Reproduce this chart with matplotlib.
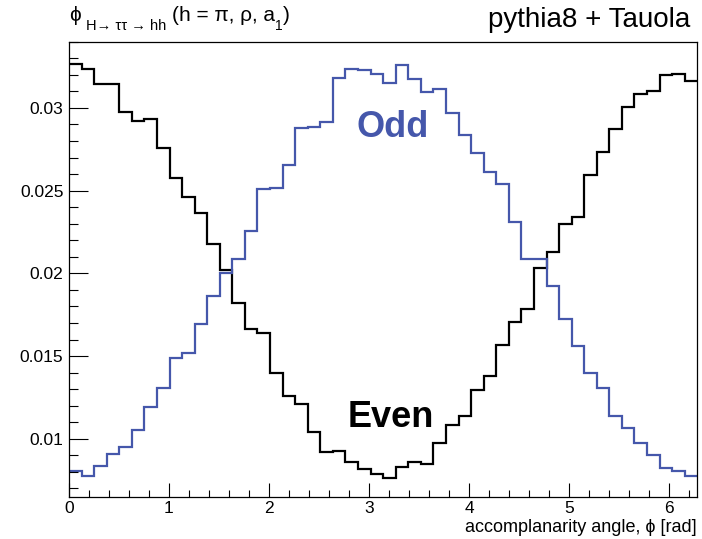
import numpy as np
import matplotlib
matplotlib.use("Agg")
import matplotlib.pyplot as plt
from matplotlib.ticker import FixedLocator, MultipleLocator

plt.rcParams['font.family'] = ['Liberation Sans', 'DejaVu Sans']
plt.rcParams['mathtext.fontset'] = 'custom'
plt.rcParams['mathtext.rm'] = 'Liberation Sans'
plt.rcParams['mathtext.it'] = 'Liberation Sans'
plt.rcParams['mathtext.sf'] = 'Liberation Sans'
plt.rcParams['mathtext.fallback'] = 'stixsans'

# Normalised acoplanarity-angle distributions, 50 bins over [0, 2*pi]
n_bins = 50
phi_max = 2 * np.pi

even = [0.03263, 0.03234, 0.03142, 0.03142, 0.02976, 0.02922, 0.02930, 0.02755,
        0.02578, 0.02461, 0.02363, 0.02175, 0.02020, 0.01819, 0.01662, 0.01641,
        0.01399, 0.01259, 0.01210, 0.01043, 0.00918, 0.00928, 0.00858, 0.00818,
        0.00787, 0.00761, 0.00832, 0.00862, 0.00846, 0.00977, 0.01083, 0.01140,
        0.01295, 0.01381, 0.01567, 0.01704, 0.01784, 0.02030, 0.02131, 0.02298,
        0.02338, 0.02594, 0.02731, 0.02872, 0.03007, 0.03082, 0.03100, 0.03196,
        0.03202, 0.03162]

odd = [0.00805, 0.00777, 0.00836, 0.00906, 0.00952, 0.01053, 0.01190, 0.01309,
       0.01486, 0.01517, 0.01694, 0.01865, 0.02000, 0.02085, 0.02256, 0.02508,
       0.02517, 0.02654, 0.02880, 0.02882, 0.02916, 0.03178, 0.03234, 0.03228,
       0.03204, 0.03148, 0.03259, 0.03174, 0.03095, 0.03112, 0.02967, 0.02836,
       0.02725, 0.02614, 0.02540, 0.02308, 0.02085, 0.02085, 0.01923, 0.01724,
       0.01561, 0.01399, 0.01305, 0.01138, 0.01063, 0.00973, 0.00902, 0.00822,
       0.00807, 0.00777]

y_ticks = [0.01, 0.015, 0.02, 0.025, 0.03]
y_tick_labels = ["0.01", "0.015", "0.02", "0.025", "0.03"]
x_ticks = [0, 1, 2, 3, 4, 5, 6]
x_tick_labels = ["0", "1", "2", "3", "4", "5", "6"]

blue = '#4557AB'

W, H = 702, 539
fig = plt.figure(figsize=(W / 100, H / 100), dpi=100)
ax = fig.add_axes([69 / W, (H - 496.7) / H, (697.3 - 69) / W, (496.7 - 41.7) / H])

edges = np.linspace(0, phi_max, n_bins + 1)
ax.stairs(even, edges, baseline=None, color='black', lw=1.6)
ax.stairs(odd, edges, baseline=None, color=blue, lw=1.6)

ax.set_xlim(0, phi_max)
ax.set_ylim(0.0065, 0.0340)

ax.xaxis.set_major_locator(FixedLocator(x_ticks))
ax.set_xticklabels(x_tick_labels)
ax.xaxis.set_minor_locator(MultipleLocator(0.2))
ax.yaxis.set_major_locator(FixedLocator(y_ticks))
ax.set_yticklabels(y_tick_labels)
ax.yaxis.set_minor_locator(MultipleLocator(0.001))

ax.tick_params(axis='both', which='both', direction='in', top=False, right=False,
               labelsize=12.5, color='black')
ax.tick_params(axis='x', which='major', length=10, width=0.8, pad=3)
ax.tick_params(axis='x', which='minor', length=5, width=0.8)
ax.tick_params(axis='y', which='major', length=13.7, width=0.8, pad=4)
ax.tick_params(axis='y', which='minor', length=6.8, width=0.8)
for s in ax.spines.values():
    s.set_linewidth(0.9)

ax.text(2.877, 0.02825, 'Odd', color=blue, fontsize=26, fontweight='bold',
        ha='left', va='baseline')
ax.text(2.783, 0.01070, 'Even', color='black', fontsize=26, fontweight='bold',
        ha='left', va='baseline')

# Title: phi with a lowered, smaller decay-chain subscript
fig.text(69 / W, 1 - 21 / H, r'$\phi$', fontsize=15, ha='left', va='baseline')
fig.text(86 / W, 1 - 30 / H, 'H→ ττ → hh', fontsize=10.5, ha='left', va='baseline')
fig.text(172 / W, 1 - 21 / H, '(h = π, ρ, a', fontsize=15, ha='left', va='baseline')
fig.text(275 / W, 1 - 30 / H, '1', fontsize=10, ha='left', va='baseline')
fig.text(283 / W, 1 - 21 / H, ')', fontsize=15, ha='left', va='baseline')

fig.text(690 / W, 1 - 27 / H, 'pythia8 + Tauola', fontsize=20,
         ha='right', va='baseline')
fig.text(697 / W, 1 - 532 / H, 'accomplanarity angle, ϕ [rad]', fontsize=13,
         ha='right', va='baseline')

fig.savefig('out.png', dpi=100)
